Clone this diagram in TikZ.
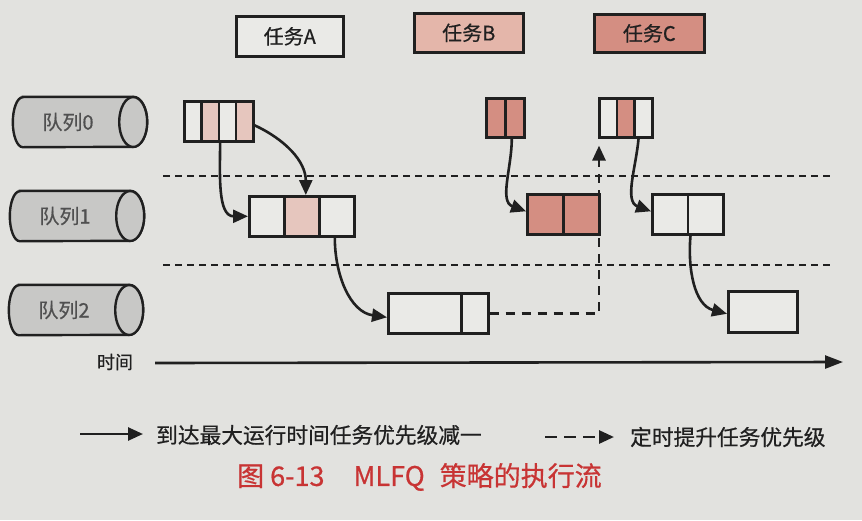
\documentclass[tikz,border=0pt]{standalone}
\usepackage{fontspec}
\setmainfont{Noto Sans CJK SC}
\newfontfamily\mfont{Noto Sans CJK SC}[FakeBold=0.6]
\usetikzlibrary{arrows.meta,calc}
\definecolor{bg}{RGB}{226,226,223}
\definecolor{pinkl}{RGB}{230,198,190}
\definecolor{pinkm}{RGB}{228,182,170}
\definecolor{salmon}{RGB}{212,142,130}
\definecolor{cellw}{RGB}{234,234,231}
\definecolor{cylg}{RGB}{200,200,198}
\definecolor{capred}{RGB}{200,52,52}
\definecolor{ink}{RGB}{32,32,32}
\definecolor{qtext}{RGB}{80,80,80}
\newcommand\queuecyl[4]{%
  \node[draw=none, minimum width=134pt, minimum height=50pt, inner sep=0pt] (#1) at (#2) {};
  \draw[cylbody] ($(#1.north west)+(10pt,0)$) -- ($(#1.north east)+(-14pt,0)$)
     arc[start angle=90, end angle=-90, x radius=14pt, y radius=25pt]
     -- ($(#1.south west)+(10pt,0)$)
     arc[start angle=270, end angle=90, x radius=10pt, y radius=25pt] -- cycle;
  \draw[cylbody] ($(#1.east)+(-14pt,0)$) ellipse[x radius=14pt, y radius=25pt];
  \node[qlabel] (#3) at ($(#1.center)+(-12pt,0)$) {#4};
}
\begin{document}
\begin{tikzpicture}[x=1pt,y=-1pt,
  cell/.style={draw=ink, line width=2.6pt, inner sep=0pt, anchor=north west, fill=cellw},
  taskbox/.style={draw=ink, line width=2.6pt, inner sep=0pt, anchor=north west,
     minimum width=107pt, minimum height=40pt, font=\mfont\fontsize{20}{24}\selectfont, text=ink},
  cylbody/.style={draw=ink, line width=2.4pt, fill=cylg},
  qlabel/.style={font=\mfont\fontsize{20}{24}\selectfont, text=qtext, inner sep=0pt},
  arr/.style={draw=ink, line width=2.6pt, -{Triangle[length=15pt,width=13pt]}},
  promo/.style={draw=ink, line width=2.8pt, dash pattern=on 9pt off 7pt,
     -{Triangle[length=15pt,width=13pt]}},
  sepline/.style={draw=ink, line width=1.6pt, dash pattern=on 7pt off 5pt},
  legendtext/.style={font=\mfont\fontsize{21.7}{25}\selectfont, text=ink, anchor=west, inner sep=0pt}]
\useasboundingbox[fill=bg] (0,0) rectangle (862,520);

% task headers
\node[taskbox, fill=cellw] (tA) at (235,15) {任务A};
\node[taskbox, fill=pinkm, minimum width=109pt, minimum height=39pt] (tB) at (413,12) {任务B};
\node[taskbox, fill=salmon, minimum width=110pt, minimum height=38pt] (tC) at (593,13) {任务C};

% queues
\queuecyl{q0}{80,122}{q0t}{队列0}
\queuecyl{q1}{77,216}{q1t}{队列1}
\queuecyl{q2}{76,310}{q2t}{队列2}

% separators
\coordinate (s1a) at (163,176); \coordinate (s1b) at (830,176);
\coordinate (s2a) at (163,265); \coordinate (s2b) at (830,265);
\draw[sepline] (s1a) -- (s1b);
\draw[sepline] (s2a) -- (s2b);

% queue 0 row
\node[cell, minimum width=17.25pt, minimum height=40pt] (a0c1) at (183,100) {};
\node[cell, minimum width=17.25pt, minimum height=40pt, fill=pinkl] (a0c2) at (200.25,100) {};
\node[cell, minimum width=17.25pt, minimum height=40pt] (a0c3) at (217.5,100) {};
\node[cell, minimum width=17.25pt, minimum height=40pt, fill=pinkl] (a0c4) at (234.75,100) {};

\node[cell, minimum width=19pt, minimum height=39pt, fill=salmon] (b0c1) at (485,97) {};
\node[cell, minimum width=19pt, minimum height=39pt, fill=salmon] (b0c2) at (504,97) {};

\node[cell, minimum width=17.7pt, minimum height=39pt] (c0c1) at (598,97) {};
\node[cell, minimum width=17.7pt, minimum height=39pt, fill=salmon] (c0c2) at (615.7,97) {};
\node[cell, minimum width=17.7pt, minimum height=39pt] (c0c3) at (633.4,97) {};

% queue 1 row
\node[cell, minimum width=35pt, minimum height=40pt] (a1c1) at (248,195) {};
\node[cell, minimum width=35pt, minimum height=40pt, fill=pinkl] (a1c2) at (283,195) {};
\node[cell, minimum width=35pt, minimum height=40pt] (a1c3) at (318,195) {};

\node[cell, minimum width=36pt, minimum height=40pt, fill=salmon] (b1c1) at (526,193) {};
\node[cell, minimum width=36pt, minimum height=40pt, fill=salmon] (b1c2) at (562,193) {};

\node[cell, minimum width=35.5pt, minimum height=40pt] (c1c1) at (651,193) {};
\node[cell, minimum width=35.5pt, minimum height=40pt] (c1c2) at (686.5,193) {};

% queue 2 row
\node[cell, minimum width=73pt, minimum height=40pt] (a2c1) at (387,292) {};
\node[cell, minimum width=27pt, minimum height=40pt] (a2c2) at (460,292) {};

\node[cell, minimum width=69pt, minimum height=41pt] (c2) at (727,290) {};

% demotion arrows
\draw[arr] ($(a0c4.east)+(0,-4pt)$) to[out=-25,in=90] ($(a1c2.north)+(4pt,0)$);
\draw[arr] (a0c2.south east) to[out=-90,in=180] (a1c1.west);
\draw[arr] ($(a1c3.south)+(-2pt,0)$) to[out=-90,in=172] ($(a2c1.west)+(0,-4pt)$);
\draw[arr] ($(b0c2.south)+(-3pt,0)$) to[out=-90,in=160] ($(b1c1.west)+(0,3pt)$);
\draw[arr] ($(c0c3.south)+(-5pt,0)$) to[out=-95,in=160] ($(c1c1.west)+(0,3pt)$);
\draw[arr] ($(c1c2.south west)+(4pt,0)$) to[out=-95,in=165] ($(c2.west)+(0,-2pt)$);

% periodic boost
\draw[promo, shorten >=7pt] (a2c2.east) -| ($(c0c1.south west)+(1pt,0)$);

% time axis
\coordinate (t0) at (155,363);
\coordinate (t1) at (843,362);
\draw[draw=ink, line width=2.6pt, -{Triangle[length=18pt,width=13pt]}] (t0) -- (t1);
\node[font=\mfont\fontsize{18}{22}\selectfont, text=ink, inner sep=0pt] (tlabel) at (115,362) {时间};

% legend
\coordinate (l1s) at (80,434); \coordinate (l1e) at (143,434);
\draw[arr] (l1s) -- (l1e);
\node[legendtext] (l1t) at (156,435) {到达最大运行时间任务优先级减一};
\coordinate (l2s) at (545,437); \coordinate (l2e) at (614,437);
\draw[promo, dash pattern=on 12pt off 7pt] (l2s) -- (l2e);
\node[legendtext] (l2t) at (630,437) {定时提升任务优先级};

% caption
\node[anchor=west, inner sep=0pt, text=capred, font=\mfont\fontsize{27}{31}\selectfont] (cap) at (237,477)
  {图\hspace{6pt}6-13\hspace{29pt}MLFQ\hspace{15pt}策略的执行流};
\end{tikzpicture}
\end{document}
